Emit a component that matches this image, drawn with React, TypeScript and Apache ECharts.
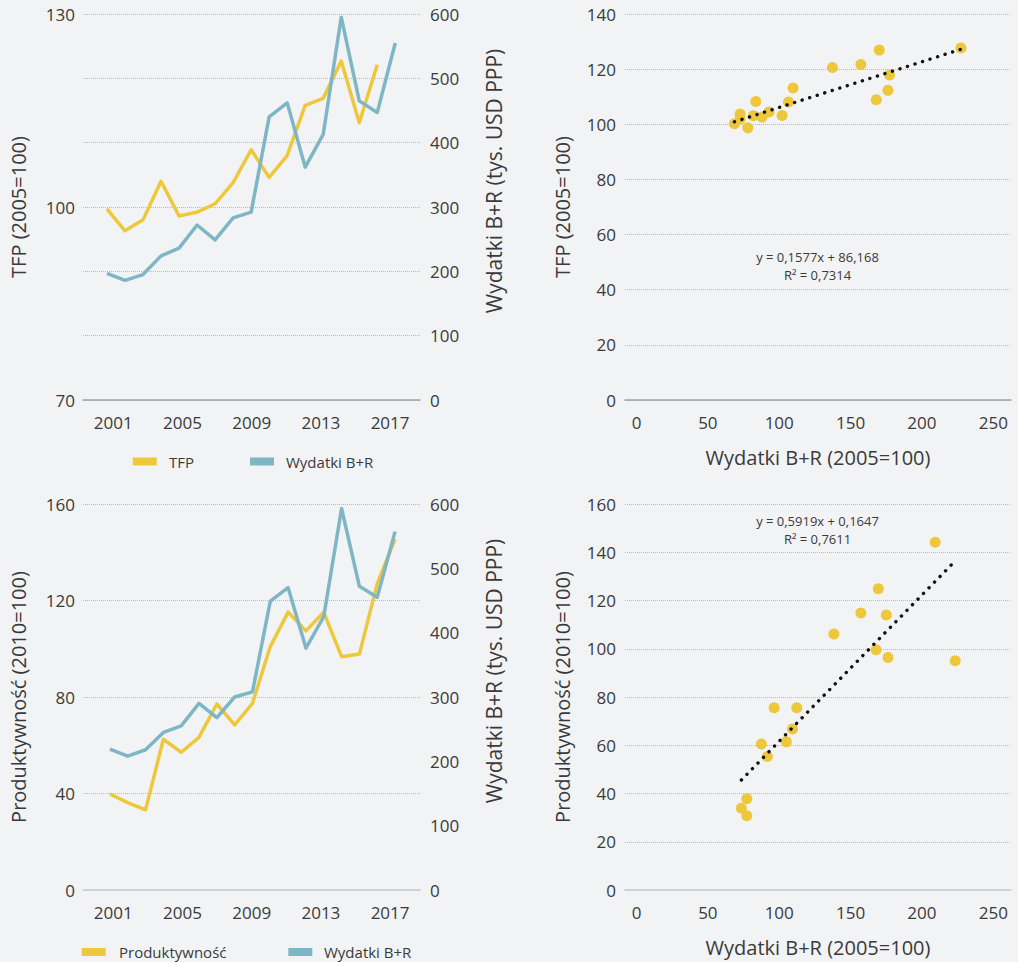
import React, { useEffect, useRef } from "react";
import * as echarts from "echarts";

// ---------- data ----------
const years = [2001, 2002, 2003, 2004, 2005, 2006, 2007, 2008, 2009, 2010, 2011, 2012, 2013, 2014, 2015, 2016, 2017];
const yearTicks = [2001, 2005, 2009, 2013, 2017];

// top-left: TFP (2005=100), 2001-2016
const tfp = [99.7, 96.3, 98.0, 104.0, 98.6, 99.2, 100.5, 103.8, 108.9, 104.6, 108.0, 115.8, 116.9, 122.7, 113.1, 122.1];
// top-left: Wydatki B+R (tys. USD PPP)
const rdTop = [197, 186, 195, 224, 236, 272, 249, 283, 292, 440, 462, 362, 413, 595, 465, 447, 555];

// bottom-left: Produktywność (2010=100)
const productivity = [39.8, 36.2, 33.2, 62.5, 57.1, 63.3, 77.1, 68.4, 77.4, 100.9, 115.2, 107.4, 115.1, 96.7, 97.8, 127.0, 145.4];
// bottom-left: Wydatki B+R (tys. USD PPP)
const rdBottom = [219, 208, 218, 245, 255, 290, 268, 300, 308, 449, 470, 376, 425, 593, 472, 455, 557];

// top-right scatter: Wydatki B+R (2005=100) vs TFP
const scatterTopX = [68.6, 72.6, 72.6, 78.0, 81.9, 83.6, 88.0, 92.9, 102.0, 106.5, 109.7, 137.3, 157.2, 168.0, 170.1, 176.2, 177.3, 227.3];
const scatterTopY = [100.2, 103.7, 101.9, 98.7, 103.1, 108.3, 102.6, 104.5, 103.2, 108.1, 113.2, 120.6, 121.7, 108.9, 126.9, 112.3, 117.9, 127.7];
const trendTopX = [68.6, 227.3];
const trendTopY = [100.9, 127.2];

// bottom-right scatter: Wydatki B+R (2005=100) vs Produktywność
const scatterBotX = [209.3, 169.4, 157.2, 175.0, 138.3, 167.9, 176.2, 223.3, 96.4, 112.3, 109.3, 105.0, 87.5, 91.7, 77.3, 73.5, 77.3];
const scatterBotY = [144.1, 124.9, 114.8, 114.0, 106.1, 99.6, 96.4, 95.0, 75.5, 75.5, 66.7, 61.4, 60.5, 55.3, 37.8, 33.9, 30.8];
const trendBotX = [73.5, 223.3];
const trendBotY = [45.6, 136.4];

const scatterTicks = [0, 50, 100, 150, 200, 250];

const eqTop = ["y = 0,1577x + 86,168", "R² = 0,7314"];
const eqBot = ["y = 0,5919x + 0,1647", "R² = 0,7611"];

// ---------- styles ----------
const FONT = "'Open Sans', 'Noto Sans', sans-serif";
const TEXT = "#3a3a3a";
const YELLOW = "#EEC83C";
const BLUE = "#7FB6C5";
const GRID = "#b8b8b8";
const BG = "#F2F3F5";

const pairs = (xs: number[], ys: number[]) => ys.map((v, i) => [xs[i], v]);

export default function App() {
  const ref = useRef<HTMLDivElement>(null);

  useEffect(() => {
    if (!ref.current) return;
    const chart = echarts.init(ref.current, undefined, { renderer: "svg" });

    const tickLabel = { color: TEXT, fontFamily: FONT, fontSize: 17 };
    const nameStyle = { color: TEXT, fontFamily: FONT, fontSize: 20 };
    const dotted = { show: true, lineStyle: { color: GRID, type: "dotted", width: 1 } };

    const dataX = (grid: number, min: number, max: number, lineColor: string) => ({
      gridIndex: grid,
      type: "value",
      min,
      max,
      position: "bottom",
      axisLine: { show: true, onZero: false, lineStyle: { color: lineColor, width: 1.5 } },
      axisTick: { show: false },
      axisLabel: { show: false },
      splitLine: { show: false },
    });
    const labelX = (grid: number, min: number, max: number) => ({
      gridIndex: grid,
      type: "value",
      min,
      max,
      position: "bottom",
      axisLine: { show: false, onZero: false },
      axisTick: { show: false },
      splitLine: { show: false },
      axisLabel: {
        ...tickLabel,
        margin: 14,
        customValues: yearTicks,
        formatter: (v: number) => String(v),
      },
    });
    const scatterXAxis = (grid: number, lineColor: string) => ({
      gridIndex: grid,
      type: "value",
      min: -8.06,
      max: 262.4,
      position: "bottom",
      name: "Wydatki B+R (2005=100)",
      nameLocation: "middle",
      nameGap: 47,
      nameTextStyle: nameStyle,
      axisLine: { show: true, onZero: false, lineStyle: { color: lineColor, width: 1.5 } },
      axisTick: { show: false },
      splitLine: { show: false },
      axisLabel: {
        ...tickLabel,
        margin: 14,
        customValues: scatterTicks,
        formatter: (v: number) => String(v),
      },
    });

    const legendItems = (y: number, items: { x: number; color: string; label: string; tx: number }[]) =>
      items.flatMap((it) => [
        { type: "rect", shape: { x: it.x, y: y - 4, width: 24, height: 8 }, style: { fill: it.color } },
        {
          type: "text",
          x: it.tx,
          y,
          style: {
            text: it.label,
            fill: TEXT,
            fontFamily: FONT,
            fontSize: 15,
            align: "left",
            verticalAlign: "middle",
            textAlign: "left",
            textVerticalAlign: "middle",
          },
        },
      ]);

    const eqText = (lines: string[], y0: number, gap: number) =>
      lines.map((t, i) => ({
        type: "text",
        x: 817.5,
        y: y0 + i * gap,
        style: {
          text: t,
          fill: TEXT,
          fontFamily: FONT,
          fontSize: 13,
          align: "center",
          verticalAlign: "middle",
          textAlign: "center",
          textVerticalAlign: "middle",
        },
      }));

    const option: any = {
      animation: false,
      backgroundColor: BG,
      textStyle: { fontFamily: FONT },
      grid: [
        { left: 83, top: 14, width: 337, height: 386 },
        { left: 83, top: 504, width: 337, height: 386 },
        { left: 625, top: 14, width: 386, height: 386 },
        { left: 625, top: 504, width: 386, height: 386 },
      ],
      xAxis: [
        dataX(0, 1999.67, 2018.37, "#a3a3a3"),
        labelX(0, 1999.25, 2018.73),
        dataX(1, 1999.49, 2018.4, "#cbcbcb"),
        labelX(1, 1999.25, 2018.73),
        scatterXAxis(2, "#a3a3a3"),
        scatterXAxis(3, "#cbcbcb"),
      ],
      yAxis: [
        {
          gridIndex: 0,
          type: "value",
          position: "left",
          min: 70,
          max: 130,
          interval: 30,
          name: "TFP (2005=100)",
          nameLocation: "middle",
          nameGap: 55,
          nameTextStyle: nameStyle,
          axisLine: { show: false },
          axisTick: { show: false },
          splitLine: { show: false },
          axisLabel: { ...tickLabel, margin: 8 },
        },
        {
          gridIndex: 0,
          type: "value",
          position: "right",
          min: 0,
          max: 600,
          interval: 100,
          name: "Wydatki B+R (tys. USD PPP)",
          nameLocation: "middle",
          nameGap: 63,
          nameTextStyle: { ...nameStyle, fontSize: 21, padding: [0, 0, 0, 52] },
          axisLine: { show: false },
          axisTick: { show: false },
          splitLine: dotted,
          axisLabel: { ...tickLabel, margin: 10 },
        },
        {
          gridIndex: 1,
          type: "value",
          position: "left",
          min: 0,
          max: 160,
          interval: 40,
          name: "Produktywność (2010=100)",
          nameLocation: "middle",
          nameGap: 55,
          nameTextStyle: nameStyle,
          axisLine: { show: false },
          axisTick: { show: false },
          splitLine: dotted,
          axisLabel: { ...tickLabel, margin: 8 },
        },
        {
          gridIndex: 1,
          type: "value",
          position: "right",
          min: 0,
          max: 600,
          interval: 100,
          name: "Wydatki B+R (tys. USD PPP)",
          nameLocation: "middle",
          nameGap: 63,
          nameTextStyle: { ...nameStyle, fontSize: 21, padding: [0, 0, 0, 52] },
          axisLine: { show: false },
          axisTick: { show: false },
          splitLine: { show: false },
          axisLabel: { ...tickLabel, margin: 10 },
        },
        {
          gridIndex: 2,
          type: "value",
          min: 0,
          max: 140,
          interval: 20,
          name: "TFP (2005=100)",
          nameLocation: "middle",
          nameGap: 53,
          nameTextStyle: nameStyle,
          axisLine: { show: false },
          axisTick: { show: false },
          splitLine: dotted,
          axisLabel: { ...tickLabel, margin: 9 },
        },
        {
          gridIndex: 3,
          type: "value",
          min: 0,
          max: 160,
          interval: 20,
          name: "Produktywność (2010=100)",
          nameLocation: "middle",
          nameGap: 53,
          nameTextStyle: nameStyle,
          axisLine: { show: false },
          axisTick: { show: false },
          splitLine: dotted,
          axisLabel: { ...tickLabel, margin: 9 },
        },
      ],
      series: [
        {
          type: "line",
          name: "TFP",
          xAxisIndex: 0,
          yAxisIndex: 0,
          data: pairs(years, tfp),
          symbol: "none",
          lineStyle: { color: YELLOW, width: 3.5, join: "round" },
          itemStyle: { color: YELLOW },
        },
        {
          type: "line",
          name: "Wydatki B+R",
          xAxisIndex: 0,
          yAxisIndex: 1,
          data: pairs(years, rdTop),
          symbol: "none",
          lineStyle: { color: BLUE, width: 3.5, join: "round" },
          itemStyle: { color: BLUE },
        },
        {
          type: "line",
          name: "Produktywność",
          xAxisIndex: 2,
          yAxisIndex: 2,
          data: pairs(years, productivity),
          symbol: "none",
          lineStyle: { color: YELLOW, width: 3.5, join: "round" },
          itemStyle: { color: YELLOW },
        },
        {
          type: "line",
          name: "Wydatki B+R ",
          xAxisIndex: 2,
          yAxisIndex: 3,
          data: pairs(years, rdBottom),
          symbol: "none",
          lineStyle: { color: BLUE, width: 3.5, join: "round" },
          itemStyle: { color: BLUE },
        },
        {
          type: "line",
          name: "trend TFP",
          xAxisIndex: 4,
          yAxisIndex: 4,
          data: pairs(trendTopX, trendTopY),
          symbol: "none",
          lineStyle: { color: "#111111", width: 3.4, type: [0.1, 7.8], cap: "round" },
        },
        {
          type: "scatter",
          name: "TFP vs B+R",
          xAxisIndex: 4,
          yAxisIndex: 4,
          data: pairs(scatterTopX, scatterTopY),
          symbolSize: 11,
          itemStyle: { color: YELLOW, opacity: 1 },
        },
        {
          type: "line",
          name: "trend Produktywność",
          xAxisIndex: 5,
          yAxisIndex: 5,
          data: pairs(trendBotX, trendBotY),
          symbol: "none",
          lineStyle: { color: "#111111", width: 3.4, type: [0.1, 7.8], cap: "round" },
        },
        {
          type: "scatter",
          name: "Produktywność vs B+R",
          xAxisIndex: 5,
          yAxisIndex: 5,
          data: pairs(scatterBotX, scatterBotY),
          symbolSize: 11,
          itemStyle: { color: YELLOW, opacity: 1 },
        },
      ],
      graphic: [
        ...legendItems(461.5, [
          { x: 132.7, color: YELLOW, label: "TFP", tx: 169 },
          { x: 250, color: BLUE, label: "Wydatki B+R", tx: 286 },
        ]),
        ...legendItems(952, [
          { x: 81.7, color: YELLOW, label: "Produktywność", tx: 119 },
          { x: 288.3, color: BLUE, label: "Wydatki B+R", tx: 324 },
        ]),
        ...eqText(eqTop, 257, 17.5),
        ...eqText(eqBot, 521, 17.5),
      ],
    };

    chart.setOption(option);
    return () => chart.dispose();
  }, []);

  return (
    <div
      ref={ref}
      style={{ position: "absolute", left: 0, top: 0, width: 1018, height: 962, background: BG }}
    />
  );
}
